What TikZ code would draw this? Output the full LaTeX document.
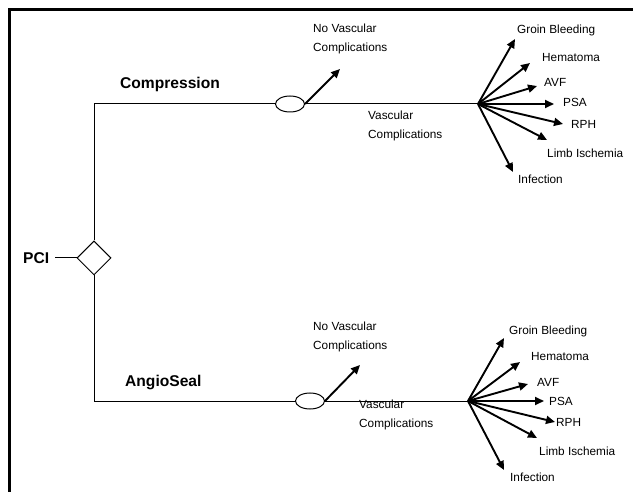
\documentclass[tikz,border=0pt]{standalone}
\usepackage{fontspec}
\setmainfont{Liberation Sans}
\usetikzlibrary{arrows.meta,positioning,shapes.geometric}

\begin{document}
\begin{tikzpicture}[x=1pt,y=-1pt,
        wire/.style={line width=1pt},
        fan/.style={-{Triangle[length=9pt,width=8pt]}, line width=1.9pt},
        lbl/.style={font=\fontsize{11.8}{19}\selectfont, inner sep=0pt, anchor=base west},
        two/.style={font=\fontsize{11.8}{19}\selectfont, inner sep=0pt, anchor=west, align=left},
        arm/.style={font=\bfseries\fontsize{15.6}{18}\selectfont, inner sep=0pt, anchor=base west},
        chance/.style={ellipse, draw, wire, minimum width=29pt, minimum height=16pt, inner sep=0pt}
    ]

    \useasboundingbox (0,0) rectangle (633,492);
    \begin{scope}
        \clip (0,0) rectangle (633,492);
        \draw[line width=3pt] (9.5,10) rectangle (680,520);
    \end{scope}

    % decision node
    \node[diamond, draw, wire, minimum width=34pt, minimum height=34pt, inner sep=0pt] (dec) at (94,258) {};
    \node[arm] (pci) at (23,264) {PCI};
    \draw[wire] ([xshift=6pt]pci.base east |- dec.west) -- (dec.west);

    % chance nodes
    \node[chance] (chA) at (290,104) {};
    \node[chance] (chB) at (310,401) {};
    \node[arm] (comp) at (120,89) {Compression};
    \node[arm] (angio) at (125,387) {AngioSeal};

    \draw[wire] (dec.north) |- (chA.west);
    \draw[wire] (dec.south) |- (chB.west);

    % upper branch
    \coordinate (hubA) at (478,104);
    \coordinate (nvA) at (340,69);
    \draw[wire] (chA.east) -- (hubA);
    \draw[fan] (chA.east) -- (nvA);
    \node[two] (nvAt) at (313,38.5) {No Vascular\\Complications};
    \node[two] (vcAt) at (368,125.5) {Vascular\\Complications};

    \coordinate (gbA) at (515,39);   \node[lbl] (gbAt) at (517,34) {Groin Bleeding};
    \coordinate (heA) at (530,63);   \node[lbl] (heAt) at (542,62) {Hematoma};
    \coordinate (avA) at (537,86);   \node[lbl] (avAt) at (544,87) {AVF};
    \coordinate (psA) at (554,104);  \node[lbl] (psAt) at (563,107) {PSA};
    \coordinate (rpA) at (563,124);  \node[lbl] (rpAt) at (571,129) {RPH};
    \coordinate (liA) at (547,140);  \node[lbl] (liAt) at (547,158) {Limb Ischemia};
    \coordinate (inA) at (513,172);  \node[lbl] (inAt) at (518,184) {Infection};

    \draw[fan] (hubA) -- (gbA);
    \draw[fan] (hubA) -- (heA);
    \draw[fan] (hubA) -- (avA);
    \draw[fan] (hubA) -- (psA);
    \draw[fan] (hubA) -- (rpA);
    \draw[fan] (hubA) -- (liA);
    \draw[fan] (hubA) -- (inA);

    % lower branch
    \coordinate (hubB) at (468,401);
    \coordinate (nvB) at (360,365);
    \draw[wire] (chB.east) -- (hubB);
    \draw[fan] (chB.east) -- (nvB);
    \node[two] (nvBt) at (313,337) {No Vascular\\Complications};
    \node[two] (vcBt) at (359,415) {Vascular\\Complications};

    \coordinate (gbB) at (504,338);  \node[lbl] (gbBt) at (509,335) {Groin Bleeding};
    \coordinate (heB) at (520,362);  \node[lbl] (heBt) at (531,361) {Hematoma};
    \coordinate (avB) at (528,384);  \node[lbl] (avBt) at (537,386) {AVF};
    \coordinate (psB) at (544,401);  \node[lbl] (psBt) at (549,406) {PSA};
    \coordinate (rpB) at (555,422);  \node[lbl] (rpBt) at (556,427) {RPH};
    \coordinate (liB) at (537,438);  \node[lbl] (liBt) at (539,455) {Limb Ischemia};
    \coordinate (inB) at (504,470);  \node[lbl] (inBt) at (510,481) {Infection};

    \draw[fan] (hubB) -- (gbB);
    \draw[fan] (hubB) -- (heB);
    \draw[fan] (hubB) -- (avB);
    \draw[fan] (hubB) -- (psB);
    \draw[fan] (hubB) -- (rpB);
    \draw[fan] (hubB) -- (liB);
    \draw[fan] (hubB) -- (inB);

\end{tikzpicture}
\end{document}
